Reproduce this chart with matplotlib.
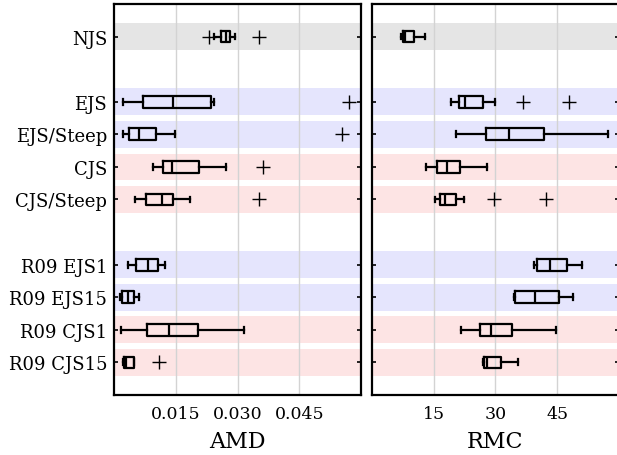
import numpy as np
import matplotlib.pyplot as plt

plt.rcParams['font.family'] = 'DejaVu Serif'

labels = ['NJS', 'EJS', 'EJS/Steep', 'CJS', 'CJS/Steep',
          'R09 EJS1', 'R09 EJS15', 'R09 CJS1', 'R09 CJS15']
positions = [0, 2, 3, 4, 5, 7, 8, 9, 10]
groups = ['gray', 'blue', 'blue', 'red', 'red', 'blue', 'blue', 'red', 'red']

# AMD box stats: whislo, q1, med, q3, whishi
amd_lo = [0.0244, 0.0023, 0.0022, 0.0094, 0.0052, 0.0033, 0.0015, 0.0017, 0.0023]
amd_q1 = [0.0260, 0.0071, 0.0037, 0.0120, 0.0078, 0.0054, 0.0019, 0.0080, 0.0025]
amd_med = [0.0271, 0.0143, 0.0061, 0.0142, 0.0117, 0.0082, 0.0033, 0.0134, 0.0030]
amd_q3 = [0.0281, 0.0236, 0.0102, 0.0207, 0.0143, 0.0107, 0.0048, 0.0203, 0.0048]
amd_hi = [0.0293, 0.0244, 0.0147, 0.0272, 0.0184, 0.0124, 0.0060, 0.0316, 0.0049]
amd_fliers = [[0.0230, 0.0352], [0.0571], [0.0555], [0.0363], [0.0352],
              [], [], [], [0.0109]]

# RMC box stats
rmc_lo = [7.1, 19.3, 20.3, 13.2, 15.2, 39.4, 34.6, 21.6, 27.0]
rmc_q1 = [7.5, 21.2, 27.7, 15.7, 16.6, 40.2, 34.8, 26.2, 27.2]
rmc_med = [8.0, 22.5, 33.2, 18.2, 17.7, 43.2, 39.5, 29.0, 28.0]
rmc_q3 = [10.2, 26.9, 41.8, 21.4, 20.4, 47.3, 45.4, 33.9, 31.3]
rmc_hi = [12.9, 29.9, 57.4, 27.9, 22.4, 51.1, 48.8, 44.8, 35.5]
rmc_fliers = [[], [36.6, 47.8], [], [], [29.6, 42.2], [], [], [], []]

band_colors = {'gray': '#e5e5e5', 'blue': '#e5e5fd', 'red': '#fde4e4'}


def stats(lo, q1, med, q3, hi, fl):
    return [dict(whislo=a, q1=b, med=c, q3=d, whishi=e, fliers=f)
            for a, b, c, d, e, f in zip(lo, q1, med, q3, hi, fl)]


def panel(ax, st, xlim, ticks, ticklabels, xlabel, show_labels):
    for p, g in zip(positions, groups):
        ax.axhspan(p - 0.41, p + 0.41, color=band_colors[g], lw=0, zorder=0)
    for t in ticks:
        ax.axvline(t, color='#d3d3d3', lw=1, zorder=1)
    line = dict(color='black', lw=1.6)
    ax.bxp(st, positions=positions, vert=False, widths=0.36,
           boxprops=line, whiskerprops=line, capprops=line,
           medianprops=line,
           flierprops=dict(marker='+', markersize=10, mec='black', mew=1))
    ax.set_xlim(*xlim)
    ax.set_ylim(11, -1)
    ax.set_xticks(ticks)
    ax.set_xticklabels(ticklabels, fontsize=12.5)
    ax.tick_params(axis='x', length=0, pad=7)
    ax.set_yticks(positions)
    if show_labels:
        ax.set_yticklabels(labels, fontsize=13)
    else:
        ax.set_yticklabels([])
    ax.tick_params(axis='y', direction='in', length=3, width=1.2,
                   left=True, right=True, pad=5)
    ax.set_xlabel(xlabel, fontsize=16, labelpad=6)
    for s in ax.spines.values():
        s.set_linewidth(1.6)


fig = plt.figure(figsize=(6.17, 4.56), dpi=100)
ax1 = fig.add_axes([0.1848, 0.1316, 0.4003, 0.8575])
ax2 = fig.add_axes([0.6029, 0.1316, 0.4003, 0.8575])

panel(ax1, stats(amd_lo, amd_q1, amd_med, amd_q3, amd_hi, amd_fliers),
      (0, 0.06), [0.015, 0.030, 0.045], ['0.015', '0.030', '0.045'], 'AMD', True)
panel(ax2, stats(rmc_lo, rmc_q1, rmc_med, rmc_q3, rmc_hi, rmc_fliers),
      (0, 60), [15, 30, 45], ['15', '30', '45'], 'RMC', False)

fig.savefig('out.png', dpi=100)
